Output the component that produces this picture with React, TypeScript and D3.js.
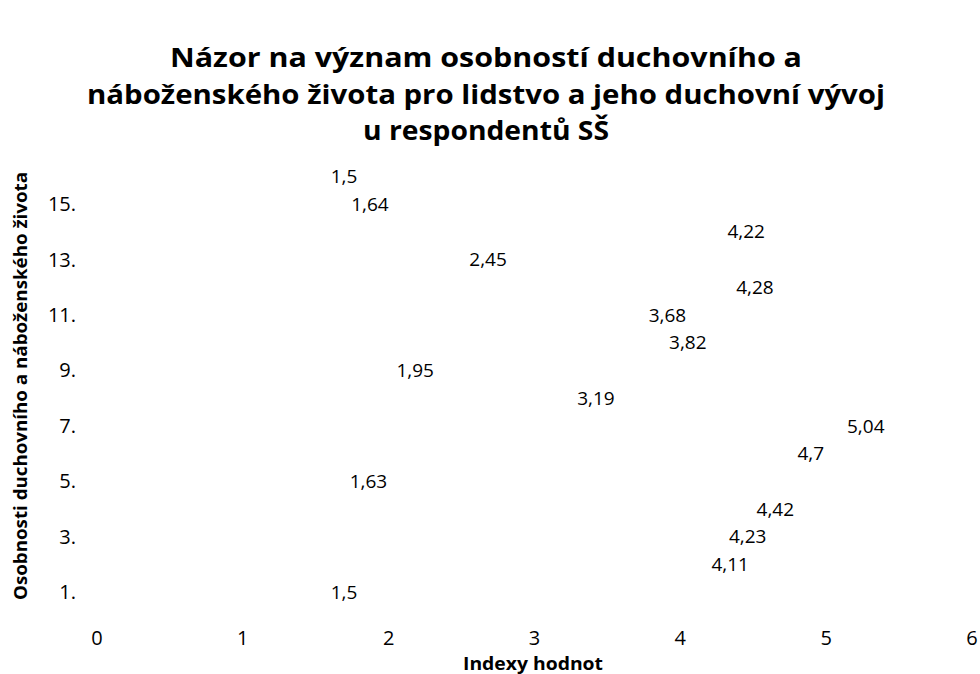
import React from "react";
import * as d3 from "d3";

const categories = [1, 2, 3, 4, 5, 6, 7, 8, 9, 10, 11, 12, 13, 14, 15, 16];
const values = [1.5, 4.11, 4.23, 4.42, 1.63, 4.7, 5.04, 3.19, 1.95, 3.82, 3.68, 4.28, 2.45, 4.22, 1.64, 1.5];
const xTicks = [0, 1, 2, 3, 4, 5, 6];
const yTicks = [1, 3, 5, 7, 9, 11, 13, 15];
const titleLines = [
  "Názor na význam osobností duchovního a",
  "náboženského života pro lidstvo a jeho duchovní vývoj",
  "u respondentů SŠ",
];
const xTitle = "Indexy hodnot";
const yTitle = "Osobnosti  duchovního a náboženského života";

const W = 980;
const H = 674;
const FONT = "'Open Sans', 'Noto Sans', sans-serif";

export default function App() {
  const x = d3.scaleLinear().domain([0, 6]).range([97, 972]);
  const y = d3.scaleLinear().domain([0, 17]).range([620, 148.6]);
  const fmt = (v: number) => String(v).replace(".", ",");
  const titleWidths = [632, 798, 246];
  const titleBase = [67, 104, 140];

  return (
    <svg width={W} height={H} style={{ position: "absolute", left: 0, top: 0, background: "#fff" }}>
      <rect x={0} y={0} width={W} height={H} fill="#fff" />
      {titleLines.map((t, i) => (
        <text
          key={i}
          x={486}
          y={titleBase[i]}
          textAnchor="middle"
          fontFamily={FONT}
          fontWeight="bold"
          fontSize={27}
          textLength={titleWidths[i]}
          lengthAdjust="spacingAndGlyphs"
          fill="#000"
        >
          {t}
        </text>
      ))}
      {xTicks.map((t) => (
        <text key={t} x={x(t)} y={645} textAnchor="middle" fontFamily={FONT} fontSize={20} fill="#000">
          {t}
        </text>
      ))}
      {yTicks.map((t) => (
        <text key={t} x={76} y={y(t)} dy="0.35em" textAnchor="end" fontFamily={FONT} fontSize={20} fill="#000">
          {t + "."}
        </text>
      ))}
      {categories.map((c, i) => (
        <text
          key={c}
          x={x(values[i]) + 15}
          y={y(c)}
          dy="0.35em"
          fontFamily={FONT}
          fontSize={19}
          fill="#000"
        >
          {fmt(values[i])}
        </text>
      ))}
      <text
        x={533}
        y={670}
        textAnchor="middle"
        fontFamily={FONT}
        fontWeight="bold"
        fontSize={18}
        textLength={140}
        lengthAdjust="spacingAndGlyphs"
        fill="#000"
      >
        {xTitle}
      </text>
      <text
        transform={`translate(27,386) rotate(-90)`}
        textAnchor="middle"
        fontFamily={FONT}
        fontWeight="bold"
        fontSize={18}
        textLength={428}
        lengthAdjust="spacingAndGlyphs"
        fill="#000"
      >
        {yTitle}
      </text>
    </svg>
  );
}
